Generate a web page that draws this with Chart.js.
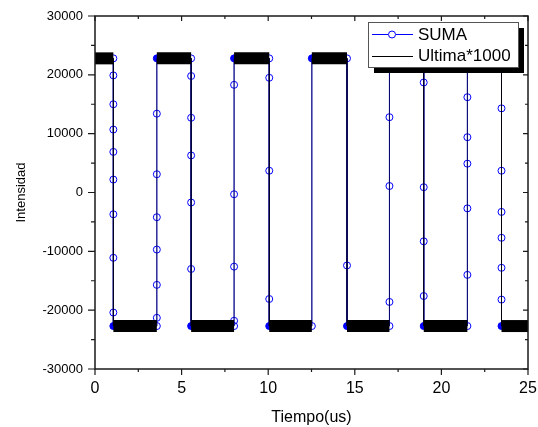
<!DOCTYPE html>
<html>
<head>
<meta charset="utf-8">
<script src="https://cdn.jsdelivr.net/npm/chart.js@4/dist/chart.umd.min.js"></script>
<style>
	html, body { margin: 0; padding: 0; background: #fff; }
	canvas { display: block; }
</style>
</head>
<body>
<canvas id="chartSignal" width="538" height="427"></canvas>
<script>
'use strict'

// switching instants (us) and the two rail levels of the square wave
const edgeTimes = [1.06, 3.57, 5.55, 8.03, 10.06, 12.52, 14.55, 17.0, 18.98, 21.5, 23.47];
const highLevel = 22800;
const lowLevel = -22700;

// SUMA samples caught in the middle of each transition, in time order
const edgeSamples = [
	[19900, 15000, 10700, 6900, 2200, -3700, -11100, -20400],
	[-21300, -15700, -9700, -4200, 3100, 13400],
	[19800, 12700, 6300, -1700, -13000],
	[-21800, -12600, -300, 18300],
	[19500, 3700, -18100],
	[],
	[-12400],
	[-18600, 1100, 12800],
	[18700, 900, -8300, -17600],
	[-14000, -2700, 4900, 9400, 16200],
	[14300, 3700, -3300, -7700, -12800, -18200],
];

const xTicks = [0, 5, 10, 15, 20, 25];
const yTicks = [-30000, -20000, -10000, 0, 10000, 20000, 30000];

const fontFamily = '"Liberation Sans", Arial, sans-serif';

// build both traces: the wave starts high and flips at every edge
let sumaPoints = [];
let ultimaPoints = [];
let level = highLevel;
sumaPoints.push({x: xTicks[0], y: level});
ultimaPoints.push({x: xTicks[0], y: level});
edgeTimes.forEach(function (t, i) {
	const next = level === highLevel ? lowLevel : highLevel;
	sumaPoints.push({x: t, y: level});
	edgeSamples[i].forEach(function (v) {
		sumaPoints.push({x: t, y: v});
	});
	sumaPoints.push({x: t, y: next, start: true});
	ultimaPoints.push({x: t, y: level});
	ultimaPoints.push({x: t, y: next});
	level = next;
});
sumaPoints.push({x: xTicks[xTicks.length - 1], y: level});
ultimaPoints.push({x: xTicks[xTicks.length - 1], y: level});

// box frame with outward ticks bottom/left, inward ticks top/right
const framePlugin = {
	id: 'frame',
	afterDatasetsDraw(chart) {
		const {ctx, chartArea: a, scales: {x, y}} = chart;
		ctx.save();
		ctx.strokeStyle = '#1a1a1a';
		ctx.lineWidth = 1.5;
		ctx.strokeRect(a.left, a.top, a.right - a.left, a.bottom - a.top);
		ctx.lineWidth = 1.2;
		ctx.beginPath();
		xTicks.forEach(function (v, i) {
			const px = x.getPixelForValue(v);
			ctx.moveTo(px, a.bottom); ctx.lineTo(px, a.bottom + 6);
			ctx.moveTo(px, a.top); ctx.lineTo(px, a.top + 5);
			if (i < xTicks.length - 1) {
				const mx = x.getPixelForValue((v + xTicks[i + 1]) / 2);
				ctx.moveTo(mx, a.bottom); ctx.lineTo(mx, a.bottom + 3);
				ctx.moveTo(mx, a.top); ctx.lineTo(mx, a.top + 3);
			}
		});
		yTicks.forEach(function (v, i) {
			const py = y.getPixelForValue(v);
			ctx.moveTo(a.left, py); ctx.lineTo(a.left - 7, py);
			ctx.moveTo(a.right, py); ctx.lineTo(a.right - 5, py);
			if (i < yTicks.length - 1) {
				const my = y.getPixelForValue((v + yTicks[i + 1]) / 2);
				ctx.moveTo(a.left, my); ctx.lineTo(a.left - 4, my);
				ctx.moveTo(a.right, my); ctx.lineTo(a.right - 3, my);
			}
		});
		ctx.stroke();
		ctx.restore();
	},
};

// boxed legend with drop shadow in the top right corner
const boxLegend = {
	id: 'boxLegend',
	afterDraw(chart) {
		const ctx = chart.ctx;
		const left = 368, top = 22, w = 150, h = 45;
		ctx.save();
		ctx.fillStyle = '#000';
		ctx.fillRect(left + 6, top + 6, w, h);
		ctx.fillStyle = '#fff';
		ctx.fillRect(left, top, w, h);
		ctx.strokeStyle = '#555';
		ctx.lineWidth = 1;
		ctx.strokeRect(left + 0.5, top + 0.5, w, h);

		ctx.lineWidth = 1;
		ctx.strokeStyle = '#0000ff';
		ctx.beginPath();
		ctx.moveTo(left + 4, 34.5); ctx.lineTo(left + 20, 34.5);
		ctx.moveTo(left + 28, 34.5); ctx.lineTo(left + 45, 34.5);
		ctx.stroke();
		ctx.beginPath();
		ctx.arc(left + 24, 34.5, 3.5, 0, Math.PI * 2);
		ctx.stroke();

		ctx.strokeStyle = '#000';
		ctx.beginPath();
		ctx.moveTo(left + 4, 56.5); ctx.lineTo(left + 45, 56.5);
		ctx.stroke();

		ctx.fillStyle = '#000';
		ctx.font = '17px ' + fontFamily;
		ctx.textBaseline = 'middle';
		ctx.fillText(chart.data.datasets[1].label, left + 50, 35);
		ctx.fillText(chart.data.datasets[0].label, left + 50, 56);
		ctx.restore();
	},
};

let chartSignal = new Chart(document.getElementById('chartSignal'), {
	type: 'scatter',
	data: {
		datasets: [
			{
				label: 'Ultima*1000',
				data: ultimaPoints,
				showLine: true,
				order: 0,
				borderColor: '#000',
				borderWidth: 1,
				borderCapStyle: 'butt',
				pointRadius: 0,
				segment: {
					// flat stretches are drawn as a heavy band, edges stay thin
					borderWidth: ctx => ctx.p0.parsed.y === ctx.p1.parsed.y ? 12 : 1,
					borderColor: ctx => ctx.p0.parsed.y === ctx.p1.parsed.y ? '#000' : 'rgba(0,0,0,0.6)',
				},
			},
			{
				label: 'SUMA',
				data: sumaPoints,
				showLine: true,
				order: 1,
				borderColor: '#0000ff',
				borderWidth: 1,
				pointRadius: 3.5,
				pointBorderWidth: 1,
				pointBorderColor: '#0000ff',
				pointBackgroundColor: ctx => ctx.raw && ctx.raw.start ? '#0000ff' : 'rgba(0,0,0,0)',
			},
		],
	},
	options: {
		responsive: false,
		animation: false,
		layout: {
			padding: {left: 0, top: 16, right: 10, bottom: 0},
		},
		plugins: {
			legend: {display: false},
			tooltip: {enabled: false},
		},
		scales: {
			x: {
				type: 'linear',
				min: 0,
				max: 25,
				grid: {display: false, drawTicks: false},
				border: {display: false},
				afterBuildTicks: s => { s.ticks = xTicks.map(v => ({value: v})); },
				afterFit: s => { s.height = 58; s.paddingLeft = 0; s.paddingRight = 0; },
				ticks: {
					color: '#000',
					padding: 10,
					maxRotation: 0,
					autoSkip: false,
					font: {family: fontFamily, size: 16},
				},
				title: {
					display: true,
					text: 'Tiempo(us)',
					color: '#000',
					padding: 0,
					font: {family: fontFamily, size: 16},
				},
			},
			y: {
				min: -30000,
				max: 30000,
				grid: {display: false, drawTicks: false},
				border: {display: false},
				afterBuildTicks: s => { s.ticks = yTicks.map(v => ({value: v})); },
				afterFit: s => { s.width = 95; s.paddingTop = 0; s.paddingBottom = 0; },
				ticks: {
					color: '#000',
					padding: 12,
					autoSkip: false,
					callback: v => String(v),
					font: {family: fontFamily, size: 13},
				},
				title: {
					display: true,
					text: 'Intensidad',
					color: '#000',
					padding: {top: 14, bottom: 0},
					font: {family: fontFamily, size: 13},
				},
			},
		},
	},
	plugins: [framePlugin, boxLegend],
});
</script>
</body>
</html>
